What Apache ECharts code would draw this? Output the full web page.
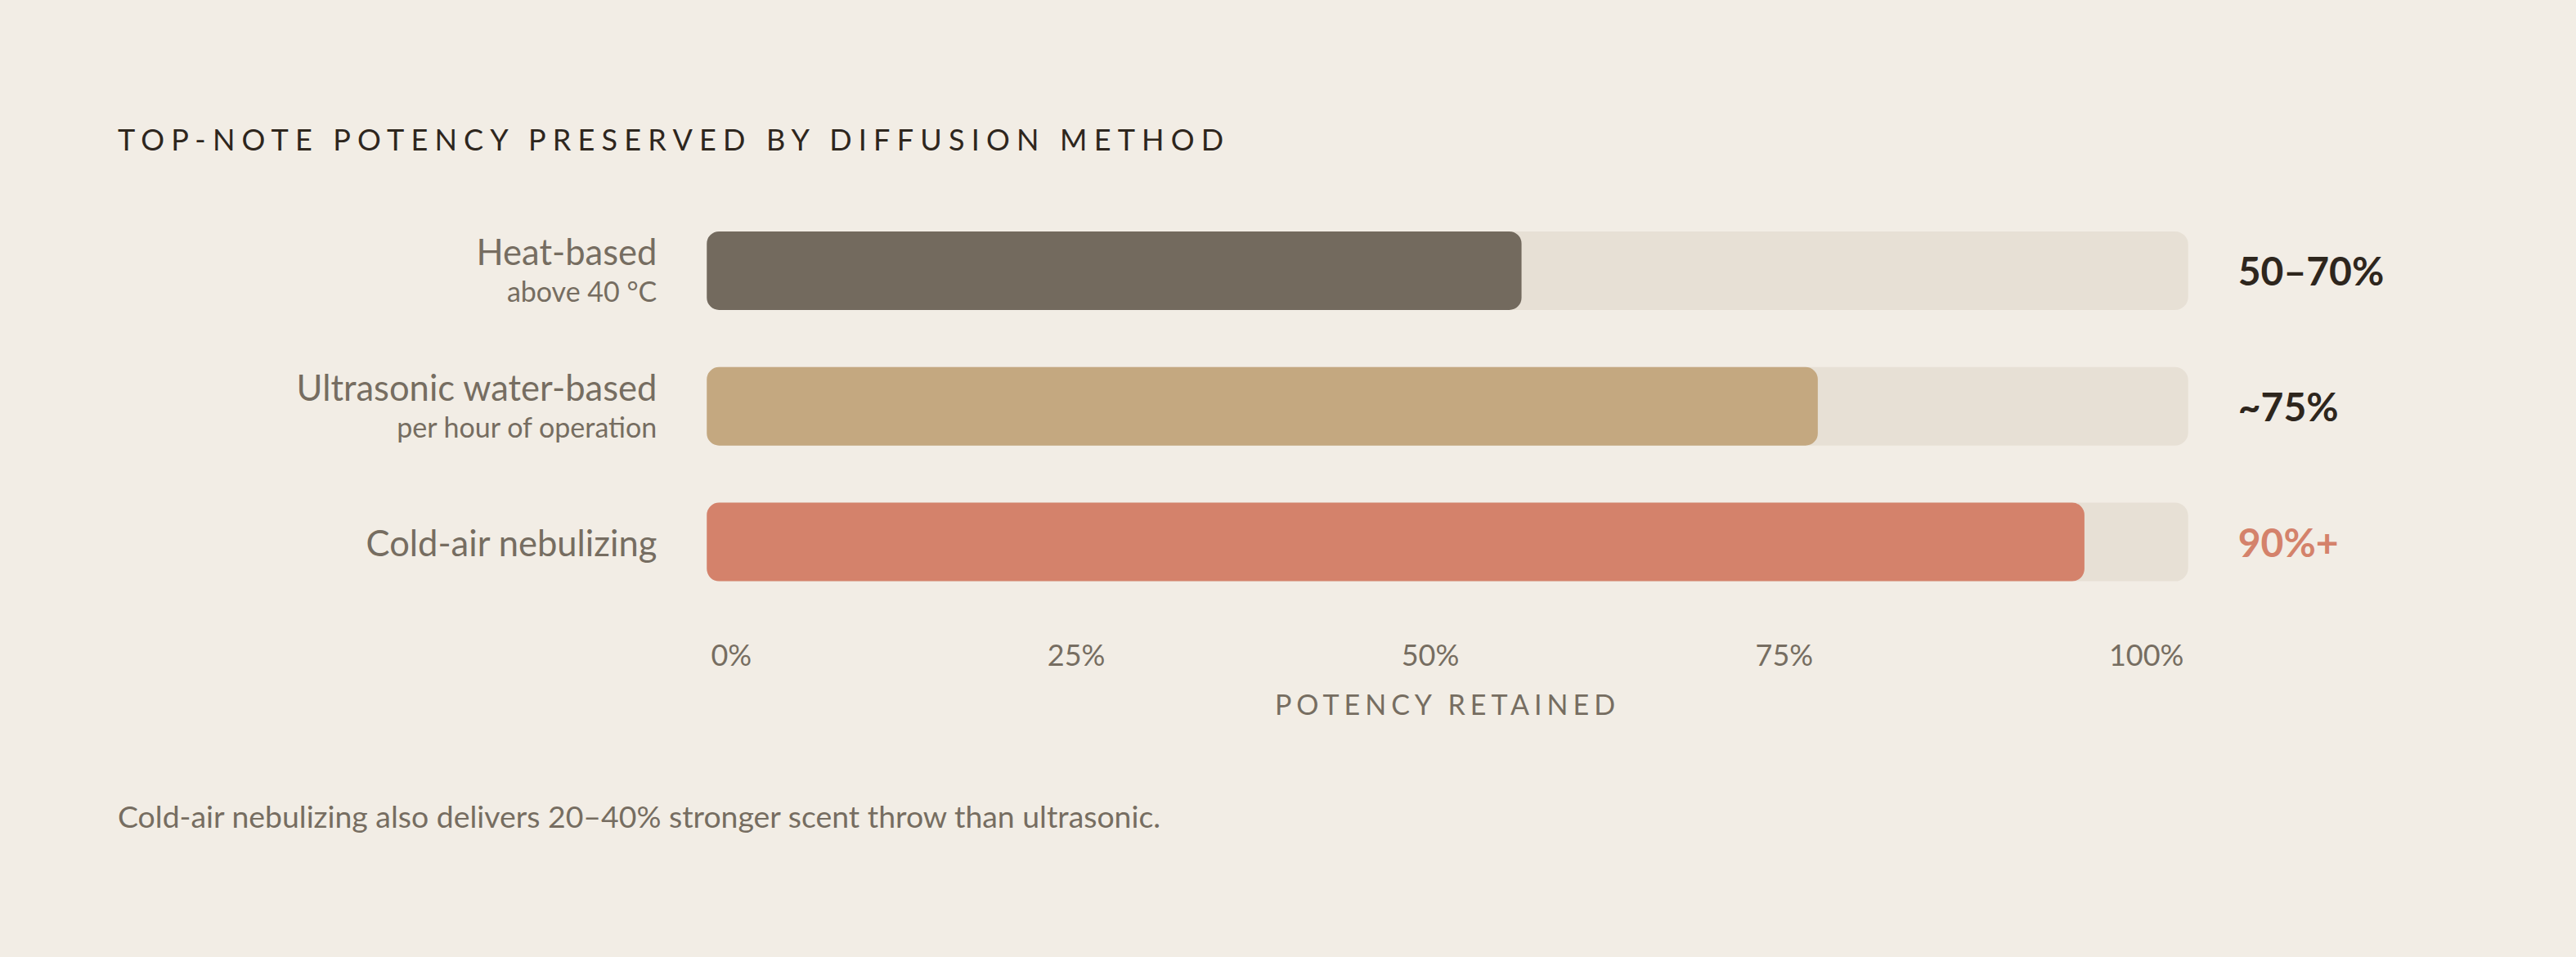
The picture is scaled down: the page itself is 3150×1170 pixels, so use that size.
<!DOCTYPE html>
<html>
<head>
<meta charset="utf-8">
<script src="https://cdn.jsdelivr.net/npm/echarts@6/dist/echarts.min.js"></script>
<style>
  html, body { margin: 0; padding: 0; background: #F2EDE5; }
  #chart { width: 3150px; height: 1170px; }
</style>
</head>
<body>
<div id="chart"></div>
<script>
const titleText = 'TOP-NOTE POTENCY PRESERVED BY DIFFUSION METHOD';
const footnoteText = 'Cold-air nebulizing also delivers 20–40% stronger scent throw than ultrasonic.';
const axisName = 'POTENCY RETAINED';
const categories = ['Heat-based', 'Ultrasonic water-based', 'Cold-air nebulizing'];
const subLabels = ['above 40 °C', 'per hour of operation', ''];
const values = [55, 75, 93];
const trackMax = [100, 100, 100];
const valueLabels = ['50–70%', '~75%', '90%+'];
const tickValues = [0, 25, 50, 75, 100];

const barColors = ['#736A5E', '#C4A880', '#D4826B'];
const valueLabelColors = ['#2E261D', '#2E261D', '#D4826B'];
const FONT = 'Lato';
const MUTED = '#766D61';

const chart = echarts.init(document.getElementById('chart'), null, { renderer: 'svg' });

// per-tick label shifts (flex-like spacing of tick labels)
const tickRich = {
  t0:   { padding: [0, 0, 0, 60] },
  t25:  { padding: [0, 2, 0, 0] },
  t50:  { padding: [0, 42, 0, 0] },
  t75:  { padding: [0, 82, 0, 0] },
  t100: { padding: [0, 102, 0, 0] }
};
Object.values(tickRich).forEach(r => Object.assign(r, { fontFamily: FONT, fontSize: 36, color: MUTED }));

const option = {
  backgroundColor: '#F2EDE5',
  animation: false,
  title: [
    {
      text: titleText,
      left: 139, top: 147,
      textStyle: { fontFamily: FONT, fontSize: 36, fontWeight: 'normal', color: '#2E261D' }
    },
    {
      text: footnoteText,
      left: 139, top: 974,
      textStyle: { fontFamily: FONT, fontSize: 37.4, fontWeight: 'normal', color: MUTED }
    }
  ],
  grid: { left: 864.3, right: 474.3, top: 248, bottom: 424.5 },
  xAxis: {
    type: 'value', min: 0, max: 100, interval: 25,
    axisLine: { show: false }, axisTick: { show: false }, splitLine: { show: false },
    axisLabel: {
      margin: 36,
      formatter: v => '{t' + v + '|' + v + '%}',
      rich: tickRich
    },
    name: axisName, nameLocation: 'middle', nameGap: 98,
    nameTextStyle: { fontFamily: FONT, fontSize: 34, color: MUTED }
  },
  yAxis: {
    type: 'category', inverse: true, data: categories,
    axisLine: { show: false }, axisTick: { show: false },
    axisLabel: {
      margin: 61,
      formatter: (v, i) => subLabels[i] ? '{n|' + v + '}\n{s|' + subLabels[i] + '}' : '{n|' + v + '}',
      rich: {
        n: { fontFamily: FONT, fontSize: 43.5, lineHeight: 50, color: MUTED, align: 'right' },
        s: { fontFamily: FONT, fontSize: 34, lineHeight: 48, color: MUTED, align: 'right' }
      }
    }
  },
  series: [
    {
      type: 'bar', barWidth: 96, silent: true, z: 1,
      itemStyle: { color: '#E7E0D5', borderRadius: 16 },
      data: trackMax.map((v, i) => ({
        value: v,
        label: {
          show: true, position: 'right', distance: 61,
          formatter: valueLabels[i],
          fontFamily: FONT, fontSize: 48, fontWeight: 'bold', color: valueLabelColors[i]
        }
      }))
    },
    {
      type: 'bar', barWidth: 96, barGap: '-100%', silent: true, z: 2,
      data: values.map((v, i) => ({ value: v, itemStyle: { color: barColors[i], borderRadius: 15 } }))
    }
  ]
};
chart.setOption(option);

function applySpacing() {
  const texts = document.querySelectorAll('#chart svg text');
  texts.forEach(t => {
    const s = t.textContent;
    if (s === titleText) t.style.letterSpacing = '8.2px';
    else if (s === axisName) t.style.letterSpacing = '6px';
  });
}
applySpacing();
chart.on('finished', applySpacing);
setTimeout(applySpacing, 50);
</script>
</body>
</html>
